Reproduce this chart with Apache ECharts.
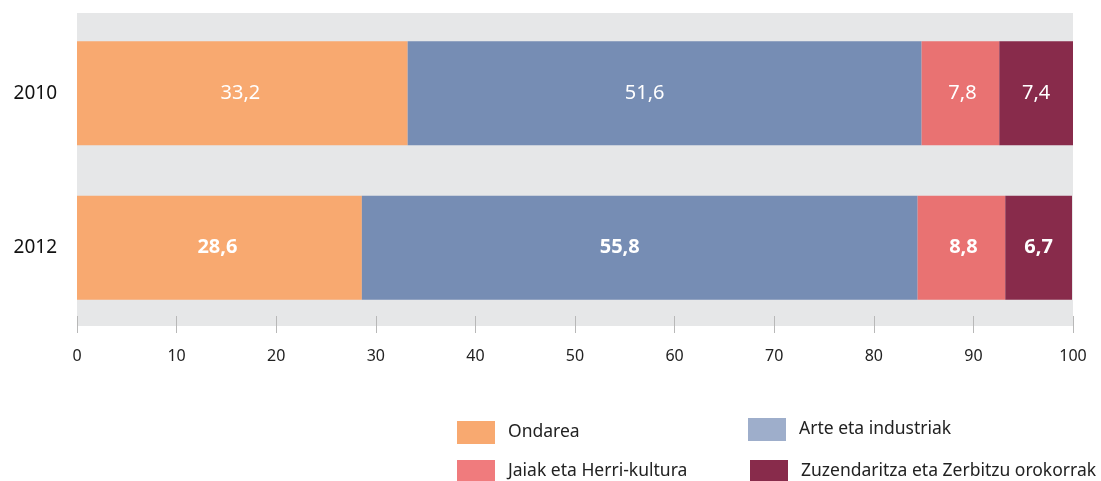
<!DOCTYPE html>
<html>
<head>
<meta charset="utf-8">
<script src="https://cdn.jsdelivr.net/npm/echarts@6/dist/echarts.min.js"></script>
<style>
  html, body { margin: 0; padding: 0; background: #ffffff; }
  #chart { width: 1101px; height: 481px; }
</style>
</head>
<body>
<div id="chart"></div>
<script>
// Years shown on the vertical axis (top to bottom)
const years = ['2010', '2012'];

// Share (%) of each spending area per year
const ondarea = [33.2, 28.6];
const arteEtaIndustriak = [51.6, 55.8];
const jaiak = [7.8, 8.8];
const zuzendaritza = [7.4, 6.7];

const seriesNames = ['Ondarea', 'Arte eta industriak', 'Jaiak eta Herri-kultura', 'Zuzendaritza eta Zerbitzu orokorrak'];
const xTicks = [0, 10, 20, 30, 40, 50, 60, 70, 80, 90, 100];

const barColors = ['#f8a970', '#768db4', '#e97272', '#882b4b'];
const legendColors = ['#f8a970', '#9eaecb', '#f07b7d', '#882b4b'];
const FONT = 'Noto Sans';

// 2012 labels are bold, 2010 labels are regular
function toData(values) {
  return values.map((v, i) => ({
    value: v,
    label: { fontWeight: i === 1 ? 'bold' : 'normal' }
  }));
}

const seriesValues = [ondarea, arteEtaIndustriak, jaiak, zuzendaritza];
const labelOffsets = [[-2, 0], [-20, 0], [2, 0], [0, 0]];

const series = seriesValues.map((vals, k) => ({
  name: seriesNames[k],
  type: 'bar',
  stack: 'total',
  barWidth: 104,
  data: toData(vals),
  itemStyle: { color: barColors[k] },
  label: {
    show: true,
    position: 'inside',
    offset: labelOffsets[k],
    color: '#ffffff',
    fontFamily: FONT,
    fontSize: 20,
    formatter: p => String(p.value).replace('.', ',')
  }
}));

const legendPos = [
  { left: 457, top: 421 },
  { left: 748, top: 418 },
  { left: 457, top: 460 },
  { left: 750, top: 460 }
];

const legends = seriesNames.map((n, k) => ({
  data: [{ name: n, itemStyle: { color: legendColors[k] } }],
  left: legendPos[k].left,
  top: legendPos[k].top,
  padding: 0,
  itemWidth: 38,
  itemHeight: 23,
  icon: 'rect',
  selectedMode: false,
  textStyle: { fontFamily: FONT, fontSize: 17.5, color: '#222222', padding: [0, 0, 0, 8] }
}));

const chart = echarts.init(document.getElementById('chart'), null, { renderer: 'canvas' });
chart.setOption({
  animation: false,
  // grey panel behind the bars
  graphic: [{
    type: 'rect',
    z: -10,
    silent: true,
    shape: { x: 77, y: 13, width: 996, height: 313 },
    style: { fill: '#e6e7e8' }
  }],
  grid: { left: 77, right: 28, top: 16, bottom: 156 },
  legend: legends,
  xAxis: {
    type: 'value',
    min: 0, max: 100, interval: 10,
    offset: -9,
    axisLine: { show: false },
    splitLine: { show: false },
    axisTick: { show: true, length: 17, lineStyle: { color: '#b8b8b8', width: 1 } },
    axisLabel: {
      margin: 32,
      fontFamily: FONT, fontSize: 16, color: '#222222',
      formatter: v => xTicks.includes(v) ? String(v) : ''
    }
  },
  yAxis: {
    type: 'category',
    data: years,
    inverse: true,
    axisLine: { show: false },
    axisTick: { show: false },
    axisLabel: { margin: 20, fontFamily: FONT, fontSize: 19, color: '#111111' }
  },
  series: series
});
</script>
</body>
</html>
